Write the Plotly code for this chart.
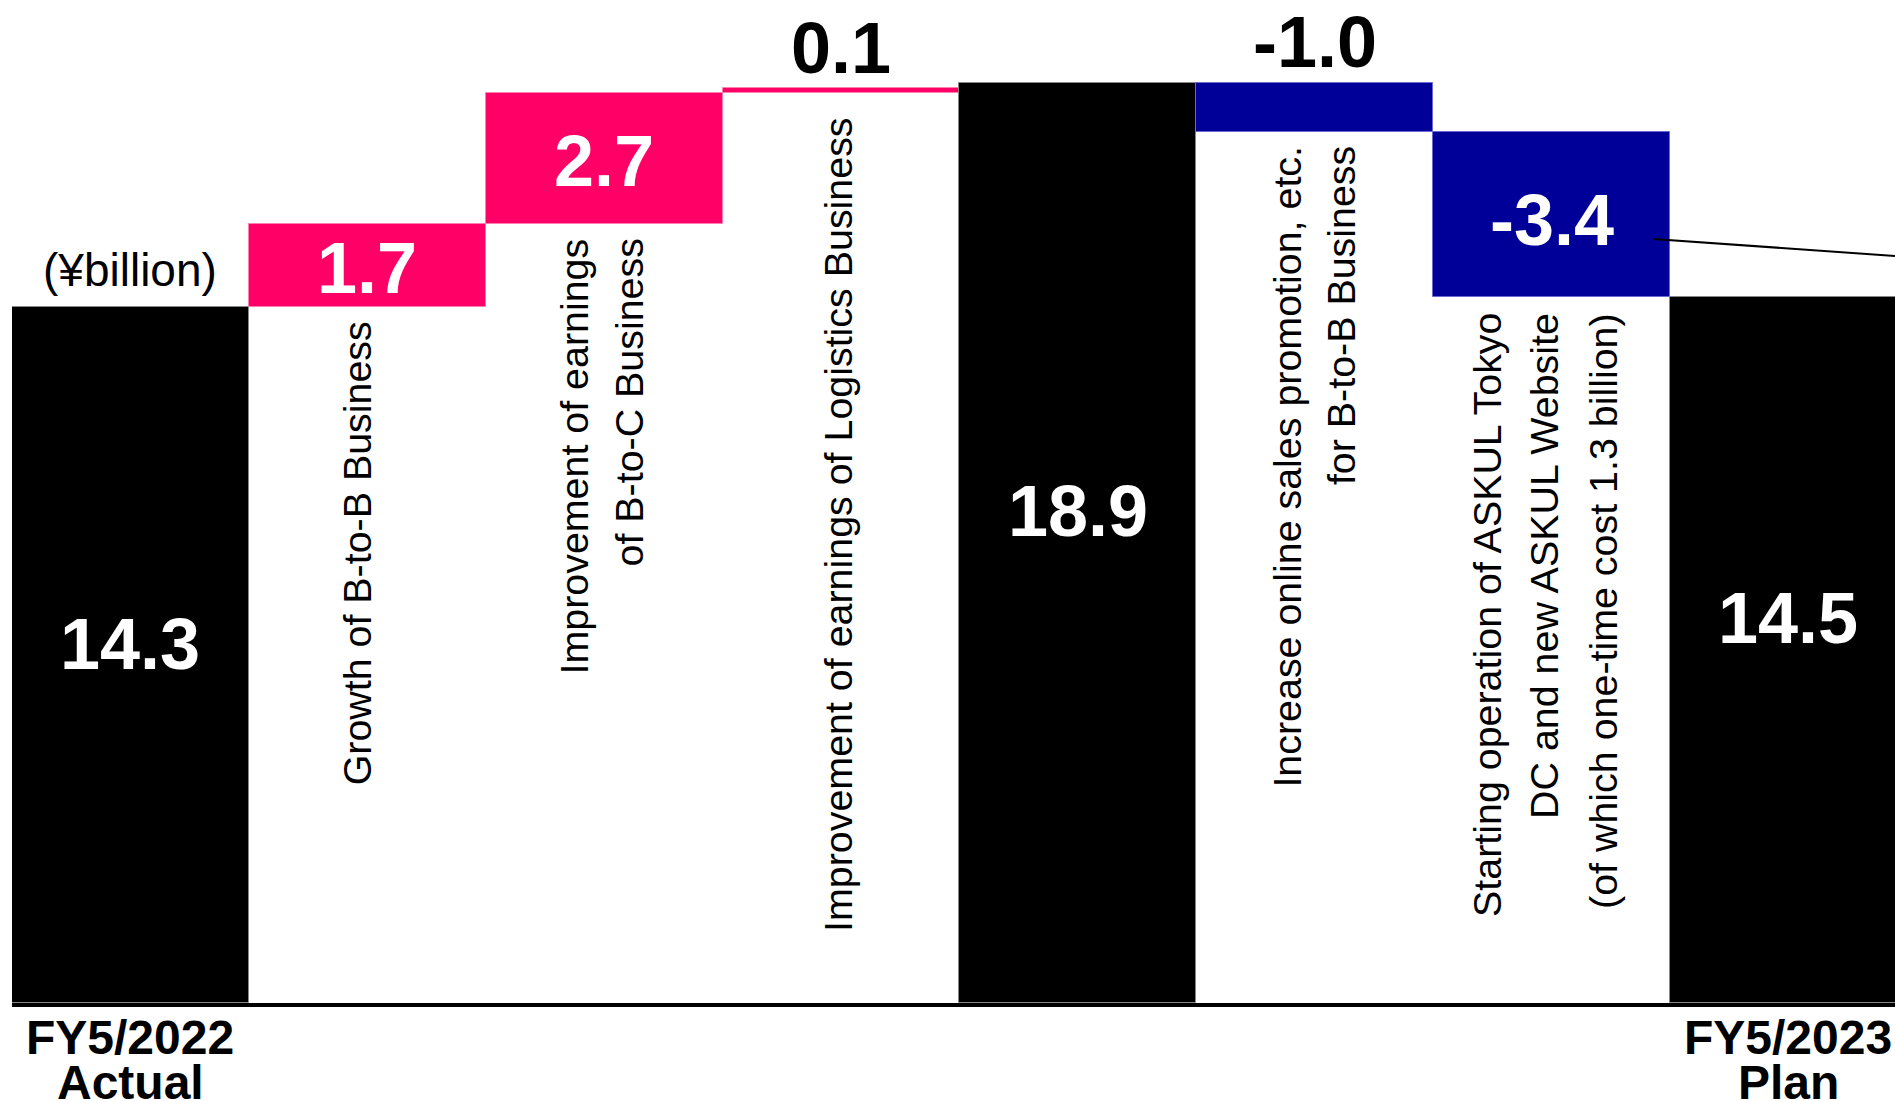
import plotly.graph_objects as go

# ---------------- data ----------------
categories = ["FY5/2022 Actual", "B-to-B growth", "B-to-C earnings", "Logistics earnings",
              "Subtotal", "Online sales promotion", "ASKUL Tokyo DC", "FY5/2023 Plan"]
measures = ["absolute", "relative", "relative", "relative",
            "absolute", "relative", "relative", "absolute"]
values = [14.3, 1.7, 2.7, 0.1, 18.9, -1.0, -3.4, 14.5]
value_labels = ["14.3", "1.7", "2.7", "0.1", "18.9", "-1.0", "-3.4", "14.5"]
descriptions = [
    [],
    ["Growth of B-to-B Business"],
    ["Improvement of earnings", "of B-to-C Business"],
    ["Improvement of earnings of Logistics Business"],
    [],
    ["Increase online sales promotion, etc.", "for B-to-B Business"],
    ["Starting operation of ASKUL Tokyo", "DC and new ASKUL Website",
     "(of which one-time cost 1.3 billion)"],
    [],
]
tick_line1 = ["FY5/2022", "", "", "", "", "", "", "FY5/2023"]
tick_line2 = ["Actual", "", "", "", "", "", "", "Plan"]
unit_label = "(¥billion)"

# ---------------- styles ----------------
PINK = "#FF0066"
BLUE = "#000099"
BLACK = "#000000"
FONT = "Liberation Sans, Arial, sans-serif"

label_pos = ["inside", "inside", "inside", "above", "inside", "above", "inside", "inside"]
label_shift = [11, -2, -2, 40, 32, 41, -5, 32]
desc_gap = [0, 13, 13, 24, 0, 13, 15, 0]
desc_xshift = [[], [-10], [-30, 25], [-3], [], [-28, 27], [-64, -7, 52], []]

# running totals
starts, ends = [], []
run = 0.0
for m, v in zip(measures, values):
    if m == "absolute":
        s, e = 0.0, v
        run = v
    else:
        s, e = run, run + v
        run = run + v
    starts.append(s)
    ends.append(e)

fig = go.Figure(go.Waterfall(
    x=categories,
    y=values,
    measure=measures,
    increasing=dict(marker=dict(color=PINK, line=dict(color="#ff7fb0", width=1))),
    decreasing=dict(marker=dict(color=BLUE, line=dict(color="#6a6ad0", width=1))),
    totals=dict(marker=dict(color=BLACK, line=dict(color="#888888", width=1))),
    connector=dict(visible=False),
    hoverinfo="skip",
))

annotations = []
for i, cat in enumerate(categories):
    s, e = starts[i], ends[i]
    if label_pos[i] == "inside":
        annotations.append(dict(
            x=cat, y=(s + e) / 2, xref="x", yref="y", text=value_labels[i],
            showarrow=False, yanchor="middle", yshift=label_shift[i], borderpad=0,
            font=dict(family=FONT, size=72, color="white", weight="bold")))
    else:
        annotations.append(dict(
            x=cat, y=max(s, e), xref="x", yref="y", text=value_labels[i],
            showarrow=False, yanchor="middle", yshift=label_shift[i], borderpad=0,
            font=dict(family=FONT, size=72, color="black", weight="bold")))
    for line, xs in zip(descriptions[i], desc_xshift[i]):
        annotations.append(dict(
            x=cat, y=min(s, e), xref="x", yref="y", text=line, textangle=-90,
            showarrow=False, yanchor="top", xanchor="center", yshift=-desc_gap[i],
            xshift=xs, borderpad=0,
            font=dict(family=FONT, size=39.4, color="black")))
    if tick_line1[i]:
        annotations.append(dict(
            x=cat, y=0, xref="x", yref="paper", text=tick_line1[i], showarrow=False,
            yanchor="middle", yshift=-34, borderpad=0,
            font=dict(family=FONT, size=48, color="black", weight="bold")))
        annotations.append(dict(
            x=cat, y=0, xref="x", yref="paper", text=tick_line2[i], showarrow=False,
            yanchor="middle", yshift=-79, borderpad=0,
            font=dict(family=FONT, size=48, color="black", weight="bold")))

annotations.append(dict(
    x=categories[0], y=ends[0], xref="x", yref="y", text=unit_label, showarrow=False,
    yanchor="middle", yshift=37, borderpad=0,
    font=dict(family=FONT, size=46, color="black")))

# leader line from the -3.4 bar towards the right edge
mid7 = (starts[6] + ends[6]) / 2
fig.add_shape(type="line", xref="x", yref="y",
              x0=6.43, y0=mid7 - 0.5, x1=7.45, y1=mid7 - 0.85,
              line=dict(color="black", width=2))

fig.update_layout(
    width=1895, height=1101,
    margin=dict(l=12, r=0, t=0, b=98),
    paper_bgcolor="white", plot_bgcolor="white",
    waterfallgap=0,
    showlegend=False,
    annotations=annotations,
    xaxis=dict(range=[-0.5, 7.45], showticklabels=False, ticks="", showgrid=False,
               zeroline=False, showline=True, linecolor="black", linewidth=4),
    yaxis=dict(range=[0, 20.61], visible=False, showgrid=False, zeroline=False),
)

fig.write_html("out.html",
               config={"displayModeBar": False},
               post_script="document.body.style.margin='0';document.body.style.overflow='hidden';")
